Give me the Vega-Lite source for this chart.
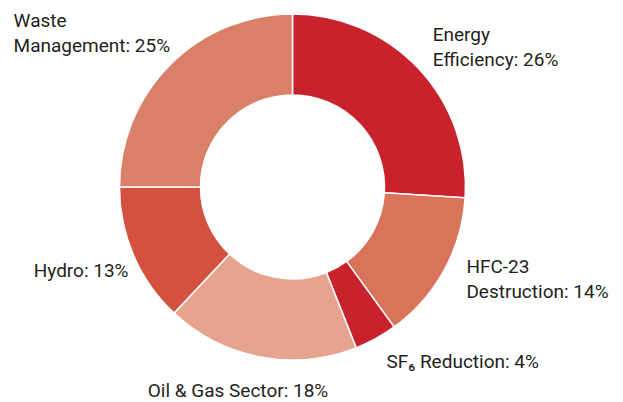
{
  "$schema": "https://vega.github.io/schema/vega-lite/v6.json",
  "width": 585,
  "height": 374,
  "autosize": {"type": "none"},
  "padding": {"left": 0, "top": 0, "right": 38, "bottom": 28},
  "background": "white",
  "config": {"view": {"stroke": null}},
  "data": {
    "values": [
      {"rank": 1, "sector": "Energy Efficiency", "share": 26, "label": "Energy\nEfficiency: 26%"},
      {"rank": 2, "sector": "HFC-23 Destruction", "share": 14, "label": "HFC-23\nDestruction: 14%"},
      {"rank": 3, "sector": "SF6 Reduction", "share": 4, "label": "SF₆ Reduction: 4%"},
      {"rank": 4, "sector": "Oil & Gas Sector", "share": 18, "label": "Oil & Gas Sector: 18%"},
      {"rank": 5, "sector": "Hydro", "share": 13, "label": "Hydro: 13%"},
      {"rank": 6, "sector": "Waste Management", "share": 25, "label": "Waste\nManagement: 25%"}
    ]
  },
  "encoding": {
    "theta": {"field": "share", "type": "quantitative", "stack": true},
    "order": {"field": "rank", "type": "quantitative"}
  },
  "layer": [
    {
      "mark": {"type": "arc", "outerRadius": 173, "innerRadius": 92, "stroke": "white", "strokeWidth": 1.5},
      "encoding": {
        "color": {
          "field": "sector",
          "type": "nominal",
          "legend": null,
          "scale": {
            "domain": ["Energy Efficiency", "HFC-23 Destruction", "SF6 Reduction", "Oil & Gas Sector", "Hydro", "Waste Management"],
            "range": ["#c8232c", "#d9735a", "#c8232c", "#e6a48e", "#d4513f", "#da8068"]
          }
        }
      }
    },
    {
      "mark": {"type": "text", "radius": 195, "align": "left", "baseline": "middle", "dx": -2, "dy": -18.5, "font": "Roboto", "fontSize": 19, "lineHeight": 25, "lineBreak": "\n", "color": "#231f20"},
      "encoding": {"text": {"condition": {"test": "datum.sector === 'Energy Efficiency'", "field": "label"}, "value": ""}}
    },
    {
      "mark": {"type": "text", "radius": 195, "align": "left", "baseline": "middle", "dx": 3, "dy": -13.5, "font": "Roboto", "fontSize": 19, "lineHeight": 25, "lineBreak": "\n", "color": "#231f20"},
      "encoding": {"text": {"condition": {"test": "datum.sector === 'HFC-23 Destruction'", "field": "label"}, "value": ""}}
    },
    {
      "mark": {"type": "text", "radius": 195, "align": "left", "baseline": "middle", "dx": 0, "dy": 4, "font": "Roboto", "fontSize": 19, "lineHeight": 25, "lineBreak": "\n", "color": "#231f20"},
      "encoding": {"text": {"condition": {"test": "datum.sector === 'SF6 Reduction'", "field": "label"}, "value": ""}}
    },
    {
      "mark": {"type": "text", "radius": 195, "align": "center", "baseline": "middle", "dx": -18, "dy": 12, "font": "Roboto", "fontSize": 19, "lineHeight": 25, "lineBreak": "\n", "color": "#231f20"},
      "encoding": {"text": {"condition": {"test": "datum.sector === 'Oil & Gas Sector'", "field": "label"}, "value": ""}}
    },
    {
      "mark": {"type": "text", "radius": 195, "align": "right", "baseline": "middle", "dx": 15, "dy": 7, "font": "Roboto", "fontSize": 19, "lineHeight": 25, "lineBreak": "\n", "color": "#231f20"},
      "encoding": {"text": {"condition": {"test": "datum.sector === 'Hydro'", "field": "label"}, "value": ""}}
    },
    {
      "mark": {"type": "text", "radius": 195, "align": "left", "baseline": "middle", "dx": -141, "dy": -28.5, "font": "Roboto", "fontSize": 19, "lineHeight": 25, "lineBreak": "\n", "color": "#231f20"},
      "encoding": {"text": {"condition": {"test": "datum.sector === 'Waste Management'", "field": "label"}, "value": ""}}
    }
  ]
}
